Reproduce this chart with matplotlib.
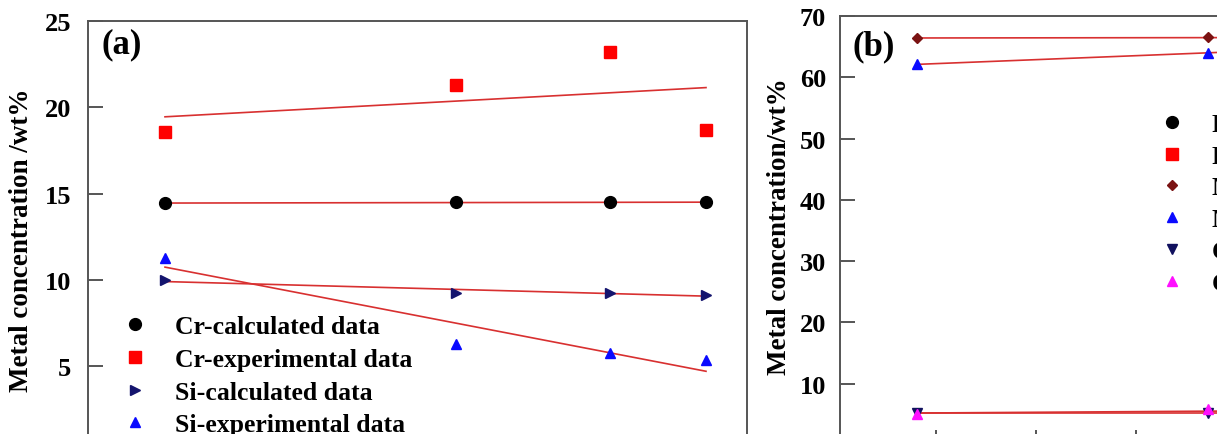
import matplotlib.pyplot as plt
import numpy as np

plt.rcParams['font.family'] = ['Liberation Serif', 'DejaVu Serif']
plt.rcParams['font.weight'] = 'bold'

# sample positions (same for both panels)
x_pos = [0.81, 3.72, 5.26, 6.22]

# (a) Cr / Si concentrations, wt%
cr_calc = [14.45, 14.5, 14.5, 14.5]
cr_exp = [18.6, 21.3, 23.2, 18.7]
si_calc = [10.0, 9.25, 9.25, 9.15]
si_exp = [11.3, 6.3, 5.8, 5.35]
labels_a = ['Cr-calculated data', 'Cr-experimental data',
            'Si-calculated data', 'Si-experimental data']

# (b) concentrations, wt%
fe_calc = []
fe_exp = []
mn_calc = [66.4, 66.5, 66.5, 66.5]
mn_exp = [62.1, 64.0, 65.0, 65.6]
c_calc = [5.3, 5.3, 5.3, 5.3]
c_exp = [5.1, 5.8, 5.6, 5.7]
labels_b = ['Fe-calculated data', 'Fe-experimental data',
            'Mn-calculated data', 'Mn-experimental data',
            'C-calculated data', 'C-experimental data']

W, H = 1217, 435
fig = plt.figure(figsize=(W / 100, H / 100), dpi=100)

spine_col = '#555555'
fit_col = '#d83030'
fs_tick = 19
fs_leg = 18.5
fs_lab = 19.5
fs_tag = 25


def px_axes(left, top, right, bottom):
    return fig.add_axes([left / W, 1 - bottom / H, (right - left) / W, (bottom - top) / H])


def style(ax, pad):
    for s in ax.spines.values():
        s.set_color(spine_col)
        s.set_linewidth(1.4)
    ax.tick_params(axis='both', direction='in', length=11, width=1.4,
                   color=spine_col, labelsize=fs_tick, pad=pad)
    ax.set_xlim(0.04, 6.63)
    ax.set_xticks(range(1, 7))
    ax.set_xticklabels([])


def draw(ax, ys, marker, color, ms, label):
    h, = ax.plot(x_pos[:len(ys)], ys, ls='none', marker=marker, color=color,
                 ms=ms, label=label, zorder=3)
    if len(ys) > 1:
        k, b = np.polyfit(x_pos, ys, 1)
        xx = np.array([x_pos[0], x_pos[-1]])
        ax.plot(xx, k * xx + b, color=fit_col, lw=1.2, zorder=2)
    return h


def add_legend(ax, handles, left, top, spacing):
    ax.legend(handles=handles, loc='upper left',
              bbox_to_anchor=(left / W, 1 - top / H),
              bbox_transform=fig.transFigure, frameon=False, fontsize=fs_leg,
              handlelength=1.0, handletextpad=1.08, labelspacing=spacing,
              borderpad=0, borderaxespad=0, numpoints=1)


# ---- panel (a)
ax1 = px_axes(88, 22, 747, 453.7)
style(ax1, 12)
ax1.set_ylim(0, 25)
ax1.set_yticks([5, 10, 15, 20, 25])
hs = [draw(ax1, cr_calc, 'o', 'black', 8.5, labels_a[0]),
      draw(ax1, cr_exp, 's', '#ff0000', 8, labels_a[1]),
      draw(ax1, si_calc, '>', '#14146e', 7.5, labels_a[2]),
      draw(ax1, si_exp, '^', '#0a0aff', 7.5, labels_a[3])]
add_legend(ax1, hs, 122, 316, 0.38)
fig.text(101 / W, 1 - 45 / H, '(a)', fontsize=fs_tag, ha='left', va='center')
fig.text(22 / W, 1 - 240 / H, 'Metal concentration /wt%', fontsize=fs_lab,
         rotation=90, ha='center', va='center')

# ---- panel (b)
ax2 = px_axes(840, 17, 1499, 446)
style(ax2, 10)
ax2.set_ylim(0, 70)
ax2.set_yticks(range(10, 80, 10))
hs = [draw(ax2, fe_calc, 'o', 'black', 8.5, labels_b[0]),
      draw(ax2, fe_exp, 's', '#ff0000', 8, labels_b[1]),
      draw(ax2, mn_calc, 'D', '#7a1212', 5.5, labels_b[2]),
      draw(ax2, mn_exp, '^', '#0a0aff', 7.5, labels_b[3]),
      draw(ax2, c_calc, 'v', '#10105e', 7.5, labels_b[4]),
      draw(ax2, c_exp, '^', '#ff10ff', 7.5, labels_b[5])]
add_legend(ax2, hs, 1159, 114, 0.34)
fig.text(852 / W, 1 - 47 / H, '(b)', fontsize=fs_tag, ha='left', va='center')
fig.text(780 / W, 1 - 227 / H, 'Metal concentration/wt%', fontsize=fs_lab,
         rotation=90, ha='center', va='center')

fig.savefig('out.png', dpi=100)
